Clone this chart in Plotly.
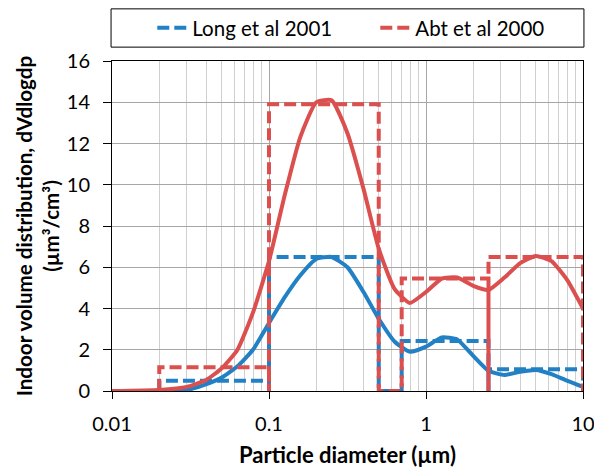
import plotly.graph_objects as go

# Smooth size distributions
dp = [0.01, 0.02, 0.03, 0.04, 0.05, 0.063, 0.079, 0.1, 0.126, 0.158, 0.2, 0.25,
      0.316, 0.4, 0.5, 0.63, 0.79, 1.0, 1.26, 1.58, 2.0, 2.5, 3.16, 3.98, 5.0,
      6.3, 7.9, 10.0]
long_curve = [0, 0, 0.05, 0.33, 0.65, 1.2, 2.0, 3.3, 4.55, 5.6, 6.4, 6.5,
              6.0, 4.8, 3.5, 2.4, 1.9, 2.15, 2.6, 2.5, 1.7, 0.98, 0.78, 0.93,
              1.02, 0.82, 0.5, 0.2]
abt_curve = [0, 0.05, 0.2, 0.55, 1.1, 2.0, 3.8, 6.3, 9.5, 12.3, 14.0, 14.1,
             12.5, 9.8, 6.9, 4.95, 4.27, 4.8, 5.45, 5.5, 5.1, 4.9, 5.5, 6.2,
             6.55, 6.3, 5.4, 4.0]

# Binned (step) distributions
bin_lo = [0.02, 0.1, 0.7, 2.5]
bin_hi = [0.1, 0.5, 2.5, 10.0]
long_bins = [0.5, 6.5, 2.42, 1.05]
abt_bins = [1.15, 13.9, 5.45, 6.5]

x_tickvals = [0.01, 0.1, 1, 10]
x_ticktext = ["0.01", "0.1", "1", "10"]
y_tickvals = [0, 2, 4, 6, 8, 10, 12, 14, 16]

BLUE = "#2280c4"
RED = "#dc4f4f"
FONT = "Lato"


def step_path(lo, hi, vals):
    xs, ys = [], []
    for a, b, v in zip(lo, hi, vals):
        xs += [a, a, b, b]
        ys += [0, v, v, 0]
    return xs, ys


fig = go.Figure()

fig.add_trace(go.Scatter(x=dp, y=long_curve, mode="lines", showlegend=False,
                         line=dict(color=BLUE, width=4, shape="spline", smoothing=0.5)))
lx, ly = step_path(bin_lo, bin_hi, long_bins)
fig.add_trace(go.Scatter(x=lx, y=ly, mode="lines", name="Long et al 2001",
                         line=dict(color=BLUE, width=4, dash="12px,5px")))
fig.add_trace(go.Scatter(x=dp, y=abt_curve, mode="lines", showlegend=False,
                         line=dict(color=RED, width=4, shape="spline", smoothing=0.5)))
ax, ay = step_path(bin_lo, bin_hi, abt_bins)
fig.add_trace(go.Scatter(x=ax, y=ay, mode="lines", name="Abt et al 2000",
                         line=dict(color=RED, width=4, dash="12px,5px")))

# legend frame
fig.add_shape(type="rect", xref="paper", yref="paper", x0=-0.002, x1=1.002,
              y0=1.042, y1=1.158, line=dict(color="black", width=1),
              fillcolor="white", layer="below")

fig.update_layout(
    width=594, height=468,
    margin=dict(l=112, r=11, t=61, b=77, autoexpand=False),
    paper_bgcolor="white", plot_bgcolor="white",
    font=dict(family=FONT, size=20, color="black"),
    legend=dict(orientation="h", x=0.559, xanchor="center", y=1.1, yanchor="middle",
                bgcolor="rgba(0,0,0,0)", font=dict(size=20.5), itemwidth=30,
                entrywidth=178, tracegroupgap=0),
    xaxis=dict(type="log", range=[-2, 1], tickvals=x_tickvals, ticktext=x_ticktext,
               automargin=False, ticklabeloverflow="allow",
               showgrid=True, gridcolor="#a6a6a6", gridwidth=1,
               minor=dict(showgrid=True, gridcolor="#d0d0d0", gridwidth=1,
                          ticks="", dtick="D1"),
               showline=True, linecolor="black", linewidth=1, mirror=True,
               ticks="outside", ticklen=7, tickcolor="black",
               ticklabelstandoff=8,
               title=dict(text="<b>Particle diameter (µm)</b>", standoff=19,
                          font=dict(size=22)),
               zeroline=False),
    yaxis=dict(range=[0, 16], tickvals=y_tickvals, automargin=False,
               showgrid=True, gridcolor="#a6a6a6", gridwidth=1,
               showline=True, linecolor="black", linewidth=1, mirror=True,
               ticks="outside", ticklen=8, tickcolor="black",
               ticklabelstandoff=9,
               title=dict(text="<b>Indoor volume distribution, dVdlogdp<br>(µm³/cm³)</b>",
                          standoff=1, font=dict(size=20.6)),
               zeroline=False),
)

fig.write_html("out.html")
